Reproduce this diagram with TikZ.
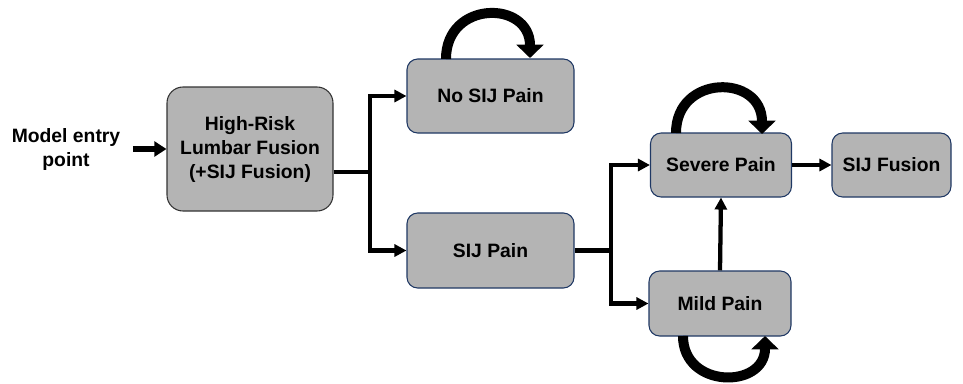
\documentclass[tikz,border=0pt]{standalone}
\usepackage{fontspec}
\setmainfont{Liberation Sans}
\usetikzlibrary{arrows.meta,positioning}

\definecolor{boxgray}{RGB}{180,180,180}
\definecolor{boxline}{RGB}{31,56,100}

\tikzset{
	state/.style={draw=boxline,line width=0.8pt,fill=boxgray,rounded corners=8pt,
		inner sep=0pt,align=center,font=\bfseries\fontsize{14.5}{18}\selectfont},
	flow/.style={line width=3.2pt,-{Triangle[length=9pt,width=9pt]}},
	flowline/.style={line width=3.2pt},
	selfloop/.style={line width=7.5pt,-{Triangle[length=10pt,width=20pt]}}
}

\begin{document}
\begin{tikzpicture}[x=0.75pt,y=-0.75pt]
	\useasboundingbox (0,0) rectangle (963,383);
	% states
	\node[state,draw=black!80,rounded corners=12pt,minimum width=124.5pt,minimum height=93pt] (hr) at (250,149) {High-Risk\\Lumbar Fusion\\(+SIJ Fusion)};
	\node[state,minimum width=125.25pt,minimum height=55.5pt] (nosij) at (490.5,96) {No SIJ Pain};
	\node[state,minimum width=125.25pt,minimum height=56.25pt] (sij) at (490.5,250.5) {SIJ Pain};
	\node[state,minimum width=105.75pt,minimum height=48pt] (severe) at (721,165) {Severe Pain};
	\node[state,minimum width=89.25pt,minimum height=48pt] (fusion) at (891.5,165) {SIJ Fusion};
	\node[state,minimum width=106.5pt,minimum height=48.75pt] (mild) at (720,303.5) {Mild Pain};
	\node[align=center,font=\bfseries\fontsize{14.5}{18}\selectfont] (entry) at (66,149) {Model entry\\point};
	% entry
	\draw[line width=3.8pt,-{Triangle[length=9pt,width=11pt]}] (entry.east) ++(8,0) coordinate (e1) -- (hr.west);
	% branches
	\coordinate (hrout) at (hr.east |- 0,172);
	\coordinate (j1) at (370,172);
	\draw[flowline] (hrout) -- (j1);
	\draw[flow] (j1) |- (nosij.west);
	\draw[flow] (j1) |- (sij.west);
	\coordinate (j2) at (611,0 |- sij.east);
	\draw[flowline] (sij.east) -- (j2);
	\draw[flow] (j2) |- (severe.west);
	\draw[flow] (j2) |- (mild.west);
	\draw[flow] (mild.north) -- (severe.south);
	\draw[flow] (severe.east) -- (fusion.west);
	% self loops
	\draw[selfloop] (446,59) .. controls (446,0) and (530,0) .. (530,58);
	\draw[selfloop] (676,133) .. controls (676,74) and (762,74) .. (762,134);
	\draw[selfloop] (683,336) .. controls (683,389) and (765,389) .. (765,336);
\end{tikzpicture}
\end{document}
